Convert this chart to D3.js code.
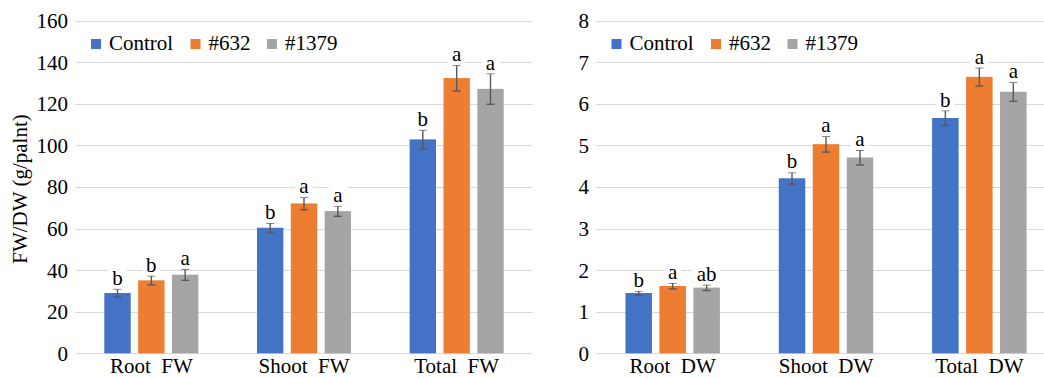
<!DOCTYPE html>
<html>
<head>
<meta charset="utf-8">
<script src="https://cdn.jsdelivr.net/npm/d3@7"></script>
<style>
  body { margin: 0; background: #fff; }
  svg { display: block; }
</style>
</head>
<body>
<svg id="chart" width="1044" height="378"></svg>
<script>
// series and colours
const series = ["Control", "#632", "#1379"];
const colors = ["#4472C4", "#ED7D31", "#A5A5A5"];

// fresh weight panel
const fwCategories = ["Root  FW", "Shoot  FW", "Total  FW"];
const fwMeans = [[29.0, 35.1, 37.8], [60.4, 72.1, 68.4], [102.9, 132.4, 127.2]];
const fwErrors = [[2.0, 2.2, 2.7], [2.3, 3.0, 2.5], [4.6, 6.2, 7.4]];
const fwLetters = [["b", "b", "a"], ["b", "a", "a"], ["b", "a", "a"]];
const fwTicks = [0, 20, 40, 60, 80, 100, 120, 140, 160];

// dry weight panel
const dwCategories = ["Root  DW", "Shoot  DW", "Total  DW"];
const dwMeans = [[1.45, 1.62, 1.58], [4.21, 5.03, 4.71], [5.66, 6.65, 6.29]];
const dwErrors = [[0.05, 0.07, 0.07], [0.14, 0.19, 0.18], [0.18, 0.22, 0.23]];
const dwLetters = [["b", "a", "ab"], ["b", "a", "a"], ["b", "a", "a"]];
const dwTicks = [0, 1, 2, 3, 4, 5, 6, 7, 8];

const yAxisTitle = "FW/DW (g/palnt)";

const svg = d3.select("#chart");
const fontFamily = "'Liberation Serif', 'Times New Roman', 'DejaVu Serif', serif";
const fontSize = 21;

function addText(sel) {
  return sel.append("text")
    .attr("font-family", fontFamily)
    .attr("font-size", fontSize)
    .attr("fill", "#000");
}

function drawPanel(opts) {
  const { categories, means, errors, letters, ticks, left, right, legendX } = opts;
  const g = svg.append("g");

  const y = d3.scaleLinear()
    .domain([ticks[0], ticks[ticks.length - 1]])
    .range([353.3, 20.7]);

  const x0 = d3.scaleBand()
    .domain(categories)
    .range([left, right])
    .paddingInner(0.384)
    .paddingOuter(0.192);

  const x1 = d3.scaleBand()
    .domain(series)
    .range([0, x0.bandwidth()])
    .paddingInner(0.22);

  // gridlines
  g.selectAll("line.grid")
    .data(ticks)
    .join("line")
    .attr("class", "grid")
    .attr("x1", left)
    .attr("x2", right)
    .attr("y1", d => Math.round(y(d)) + 0.5)
    .attr("y2", d => Math.round(y(d)) + 0.5)
    .attr("stroke", "#D9D9D9")
    .attr("stroke-width", 1.2);

  // y tick labels
  ticks.forEach(t => {
    addText(g)
      .attr("x", left - 7)
      .attr("y", y(t))
      .attr("dy", "0.35em")
      .attr("text-anchor", "end")
      .text(t);
  });

  // bars, error bars and letters
  categories.forEach((cat, ci) => {
    const grp = g.append("g").attr("transform", `translate(${x0(cat)},0)`);

    series.forEach((s, si) => {
      const v = means[ci][si];
      const e = errors[ci][si];
      const bx = x1(s);
      const cx = bx + x1.bandwidth() / 2;

      grp.append("rect")
        .attr("x", bx)
        .attr("y", y(v))
        .attr("width", x1.bandwidth())
        .attr("height", y(0) - y(v))
        .attr("fill", colors[si]);

      const eb = grp.append("g")
        .attr("stroke", "#595959")
        .attr("stroke-width", 1.4);
      eb.append("line")
        .attr("x1", cx).attr("x2", cx)
        .attr("y1", y(v + e)).attr("y2", y(v - e));
      eb.append("line")
        .attr("x1", cx - 4).attr("x2", cx + 4)
        .attr("y1", y(v + e)).attr("y2", y(v + e));
      eb.append("line")
        .attr("x1", cx - 4).attr("x2", cx + 4)
        .attr("y1", y(v - e)).attr("y2", y(v - e));

      const base = y(v + e) - 4;
      const label = letters[ci][si];
      const w = label.length * 10 + 8;
      grp.append("rect")
        .attr("x", cx - w / 2)
        .attr("y", base - 15)
        .attr("width", w)
        .attr("height", 19)
        .attr("fill", "#fff");
      addText(grp)
        .attr("x", cx)
        .attr("y", base)
        .attr("text-anchor", "middle")
        .text(label);
    });
  });

  // category labels
  categories.forEach(c => {
    addText(g)
      .attr("x", x0(c) + x0.bandwidth() / 2)
      .attr("y", 373)
      .attr("text-anchor", "middle")
      .style("white-space", "pre")
      .text(c);
  });

  // legend
  const legendOffsets = [0, 99.5, 176];
  series.forEach((s, si) => {
    const lx = legendX + legendOffsets[si];
    g.append("rect")
      .attr("x", lx)
      .attr("y", 39)
      .attr("width", 10)
      .attr("height", 10)
      .attr("fill", colors[si]);
    addText(g)
      .attr("x", lx + 18)
      .attr("y", 50)
      .text(s);
  });
}

drawPanel({
  categories: fwCategories,
  means: fwMeans,
  errors: fwErrors,
  letters: fwLetters,
  ticks: fwTicks,
  left: 75,
  right: 533,
  legendX: 91
});

drawPanel({
  categories: dwCategories,
  means: dwMeans,
  errors: dwErrors,
  letters: dwLetters,
  ticks: dwTicks,
  left: 596,
  right: 1056,
  legendX: 611.5
});

// y axis title
addText(svg)
  .attr("transform", "translate(27,189) rotate(-90)")
  .attr("text-anchor", "middle")
  .text(yAxisTitle);
</script>
</body>
</html>
